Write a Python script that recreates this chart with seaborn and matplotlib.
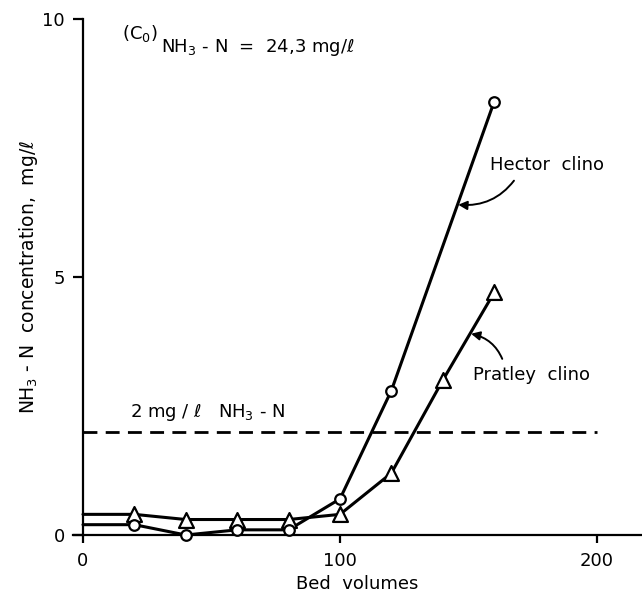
import matplotlib
matplotlib.use("Agg")
import matplotlib.pyplot as plt
import seaborn as sns
import pandas as pd

# Data
hector_x = [0, 20, 40, 60, 80, 100, 120, 160]
hector_y = [0.2, 0.2, 0.0, 0.1, 0.1, 0.7, 2.8, 8.4]
pratley_x = [0, 20, 40, 60, 80, 100, 120, 140, 160]
pratley_y = [0.4, 0.4, 0.3, 0.3, 0.3, 0.4, 1.2, 3.0, 4.7]
limit_value = 2.0
limit_x = [0, 200]
x_ticks = [0, 100, 200]
y_ticks = [0, 5, 10]

sns.set_style("ticks")
plt.rcParams["font.family"] = ["DejaVu Sans"]
plt.rcParams["mathtext.default"] = "regular"
for k in ["text.color", "axes.labelcolor", "xtick.color", "ytick.color", "axes.edgecolor"]:
    plt.rcParams[k] = "black"

fig = plt.figure(figsize=(6.42, 5.94), dpi=100)
ax = fig.add_axes([72.7 / 642, 59 / 594, 568 / 642, 516 / 594])

hec = pd.DataFrame({"x": hector_x, "y": hector_y})
pra = pd.DataFrame({"x": pratley_x, "y": pratley_y})

lw = 2.2
sns.lineplot(data=pra, x="x", y="y", color="black", lw=lw, ax=ax, clip_on=False, sort=False)
sns.lineplot(data=hec, x="x", y="y", color="black", lw=lw, ax=ax, clip_on=False, sort=False)

sns.scatterplot(data=pra.iloc[1:], x="x", y="y", marker="^", s=115, facecolor="white",
                edgecolor="black", linewidth=1.6, ax=ax, clip_on=False, zorder=5)
sns.scatterplot(data=hec.iloc[1:], x="x", y="y", marker="o", s=58, facecolor="white",
                edgecolor="black", linewidth=1.6, ax=ax, clip_on=False, zorder=5)

lim = pd.DataFrame({"x": limit_x, "y": [limit_value] * len(limit_x)})
sns.lineplot(data=lim, x="x", y="y", color="black", lw=2.0, ax=ax, linestyle=(0, (5, 3)))

ax.set_xlim(-4, 217)
ax.set_ylim(0, 10)
ax.spines["left"].set_position(("data", 0))
ax.spines["left"].set_bounds(0, 10)
ax.spines["top"].set_visible(False)
ax.spines["right"].set_visible(False)
for s in ["left", "bottom"]:
    ax.spines[s].set_linewidth(1.6)

ax.set_xticks(x_ticks)
ax.set_yticks(y_ticks)
ax.tick_params(axis="x", direction="out", length=6, width=1.6, labelsize=13, pad=6)
ax.tick_params(axis="y", direction="out", length=7, width=1.6, labelsize=13, pad=6)

ax.set_xlabel("Bed  volumes", fontsize=13, labelpad=4)
ax.set_ylabel(r"NH$_3$ - N  concentration,  mg/ℓ", fontsize=13.5, labelpad=2)

ax.text(15.2, 9.72, r"(C$_0$)", fontsize=13, ha="left", va="center")
ax.text(30.5, 9.45, r"NH$_3$ - N  =  24,3 mg/ℓ", fontsize=13, ha="left", va="center")
ax.text(18.3, 2.38, r"2 mg / ℓ   NH$_3$ - N", fontsize=13, ha="left", va="center")

ax.annotate("Hector  clino", xy=(146, 6.4), xytext=(158.4, 7.17), fontsize=13,
            ha="left", va="center",
            arrowprops=dict(arrowstyle="-|>", color="black", lw=1.4,
                            connectionstyle="arc3,rad=-0.3",
                            relpos=(0.25, 0.0), shrinkA=3, shrinkB=0))
ax.annotate("Pratley  clino", xy=(151, 3.9), xytext=(151.8, 3.1), fontsize=13,
            ha="left", va="center",
            arrowprops=dict(arrowstyle="-|>", color="black", lw=1.4,
                            connectionstyle="arc3,rad=0.3",
                            relpos=(0.27, 1.0), shrinkA=3, shrinkB=0))

fig.savefig("out.png", dpi=100)
